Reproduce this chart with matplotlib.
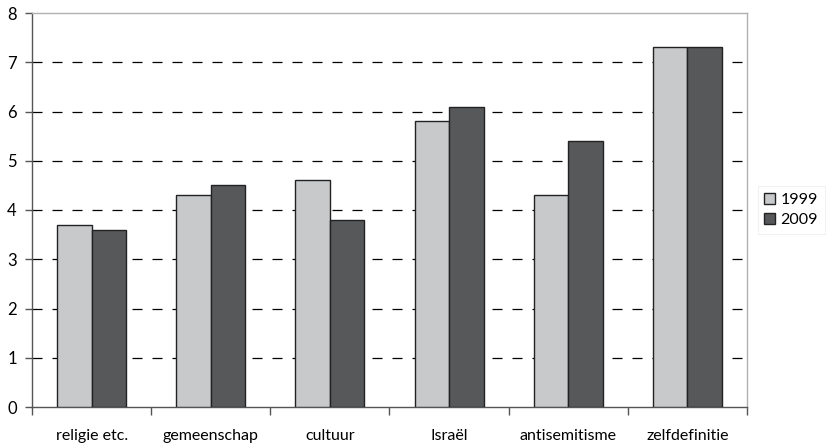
import matplotlib
matplotlib.use('Agg')
import matplotlib.pyplot as plt
import numpy as np

categories = ['religie etc.', 'gemeenschap', 'cultuur', 'Israël', 'antisemitisme', 'zelfdefinitie']
jaren = ['1999', '2009']
waarden_1999 = [3.7, 4.3, 4.6, 5.8, 4.3, 7.3]
waarden_2009 = [3.6, 4.5, 3.8, 6.1, 5.4, 7.3]

plt.rcParams['font.family'] = ['Lato', 'DejaVu Sans']

fig = plt.figure(figsize=(8.26, 4.45), dpi=100)
ax = fig.add_axes([32 / 826, 1 - 407 / 445, (747 - 32) / 826, (407 - 13) / 445])

x = np.arange(len(categories))
w = 0.29
ax.bar(x - w / 2, waarden_1999, w, color='#c8c9cb', edgecolor='#222222', linewidth=1, label=jaren[0], zorder=3)
ax.bar(x + w / 2, waarden_2009, w, color='#57585a', edgecolor='#222222', linewidth=1, label=jaren[1], zorder=3)

ax.set_xlim(-0.5, len(categories) - 0.5)
ax.set_ylim(0, 8)
ax.set_yticks(range(0, 9))
ax.set_yticklabels([str(i) for i in range(0, 9)], fontsize=12)
for y in range(1, 8):
    ax.axhline(y, color='black', linestyle=(0, (8, 8)), linewidth=0.9, zorder=1)

ax.set_xticks(x)
ax.set_xticklabels(categories, fontsize=11.5)
ax.set_xticks(np.arange(-0.5, len(categories)), minor=True)
ax.tick_params(axis='x', which='major', length=0, pad=16)
ax.tick_params(axis='x', which='minor', length=6, width=1, color='#555555', direction='out')
ax.tick_params(axis='y', length=5, width=1, color='#555555', pad=6)

ax.spines['left'].set_color('#555555')
ax.spines['bottom'].set_color('#555555')
ax.spines['top'].set_color('#b0b0b0')
ax.spines['right'].set_color('#b0b0b0')
for s in ax.spines.values():
    s.set_linewidth(1)

leg = ax.legend(loc='center left', bbox_to_anchor=(1.008, 0.5), fontsize=11.5, frameon=True,
                handlelength=0.7, handleheight=0.7, handletextpad=0.35, borderpad=0.4,
                borderaxespad=0.3, labelspacing=0.4, fancybox=False)
leg.get_frame().set_edgecolor('#eeeeee')
leg.get_frame().set_linewidth(0.8)

fig.savefig('out.png', dpi=100)
